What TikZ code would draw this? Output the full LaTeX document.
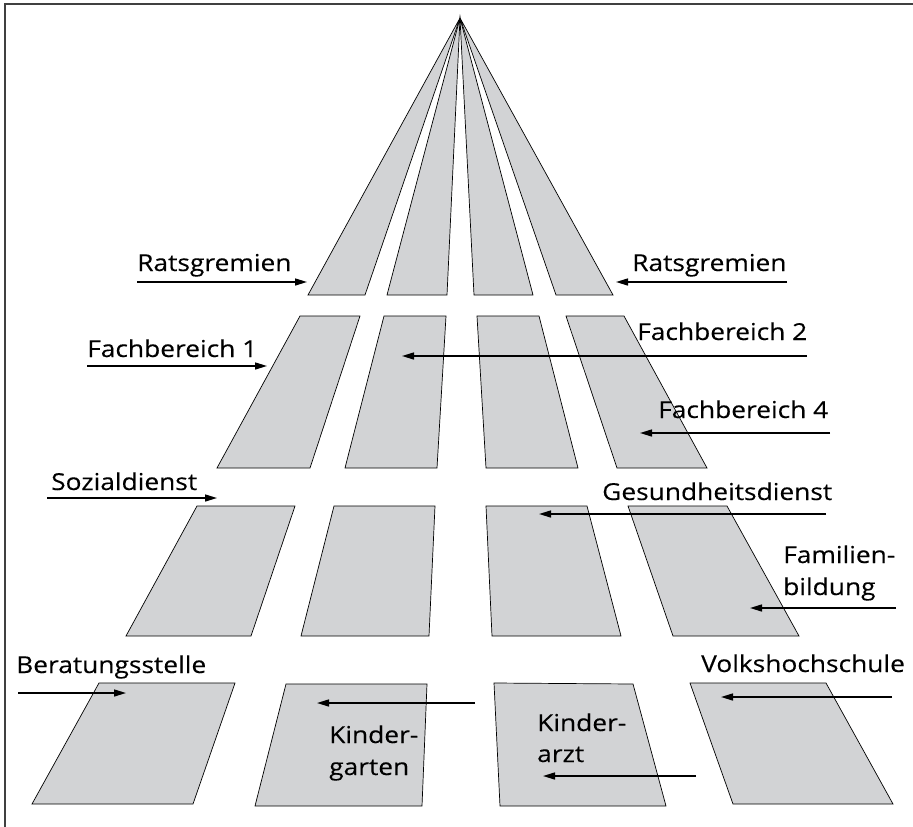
\documentclass[tikz,border=0pt]{standalone}
\usepackage{fontspec}
\setmainfont{Open Sans}[FakeStretch=1.13,FakeBold=0.25]
\usetikzlibrary{arrows.meta}
\definecolor{stripgray}{RGB}{210,211,213}
\begin{document}
\begin{tikzpicture}[x=1pt,y=-1pt,
  strip/.style={fill=stripgray,draw=black,line width=0.7pt,line join=miter},
  lbl/.style={anchor=base west,inner sep=0pt,font=\fontsize{23.3}{32}\selectfont},
  arr/.style={line width=1.5pt,-{Triangle[length=12pt,width=7pt]}}]
\useasboundingbox (0,0) rectangle (913,827);
\draw[line width=1.3pt,black!75] (5,827) -- (5,4) -- (913,4);
% top fan
\coordinate (apex) at (460,18);
\path[strip] (apex) -- (308,295) -- (365,295) -- cycle;
\path[strip] (apex) -- (387,295) -- (447,295) -- cycle;
\path[strip] (apex) -- (474,295) -- (533,295) -- cycle;
\path[strip] (apex) -- (556,295) -- (613,295) -- cycle;
% row 2
\path[strip] (300,316) -- (360,316) -- (310,468) -- (217,468) -- cycle;
\path[strip] (384,316) -- (446,316) -- (437,468) -- (345,468) -- cycle;
\path[strip] (477,316) -- (539,316) -- (578,468) -- (486,468) -- cycle;
\path[strip] (566,316) -- (624,316) -- (707,468) -- (617,468) -- cycle;
% row 3
\path[strip] (197,506) -- (295,506) -- (251,636) -- (126,636) -- cycle;
\path[strip] (334,506) -- (435,506) -- (429,636) -- (301,636) -- cycle;
\path[strip] (486,506) -- (587,506) -- (621,636) -- (492,636) -- cycle;
\path[strip] (628,506) -- (727,506) -- (799,636) -- (673,636) -- cycle;
% row 4
\path[strip] (99,683) -- (235,683) -- (193,804) -- (32,804) -- cycle;
\path[strip] (286,684) -- (427,684) -- (422,806) -- (255,806) -- cycle;
\path[strip] (494,683) -- (633,684) -- (666,806) -- (500,806) -- cycle;
\path[strip] (690,683) -- (826,683) -- (893,804) -- (733,804) -- cycle;
% labels
\node[lbl] (rl) at (137,271) {Ratsgremien};
\node[lbl] (rr) at (632,271) {Ratsgremien};
\node[lbl] (f1) at (87,357) {Fachbereich 1};
\node[lbl] (f2) at (637,340) {Fachbereich 2};
\node[lbl] (f4) at (658,418) {Fachbereich 4};
\node[lbl] (sd) at (51,490) {Sozialdienst};
\node[lbl] (gd) at (602,500) {Gesundheitsdienst};
\node[lbl] (fa) at (783,563) {Familien-};
\node[lbl] (fb) at (783,595) {bildung};
\node[lbl] (bs) at (16,673) {Beratungsstelle};
\node[lbl] (kga) at (329,743) {Kinder-};
\node[lbl] (kgb) at (329,775) {garten};
\node[lbl] (kaa) at (537,731) {Kinder-};
\node[lbl] (kab) at (537,762) {arzt};
\node[lbl] (vh) at (701,672) {Volkshochschule};
% arrow ends
\coordinate (a1s) at (137,282); \coordinate (a1e) at (307,282);
\coordinate (a2s) at (787,282); \coordinate (a2e) at (616,282);
\coordinate (a3s) at (87,366);  \coordinate (a3e) at (267,366);
\coordinate (a4s) at (807,356); \coordinate (a4e) at (402,356);
\coordinate (a5s) at (830,433); \coordinate (a5e) at (640,433);
\coordinate (a6s) at (47,498);  \coordinate (a6e) at (217,498);
\coordinate (a7s) at (826,514); \coordinate (a7e) at (539,514);
\coordinate (a8s) at (896,608); \coordinate (a8e) at (750,608);
\coordinate (a9s) at (18,693);  \coordinate (a9e) at (126,693);
\coordinate (a10s) at (475,703); \coordinate (a10e) at (317,703);
\coordinate (a11s) at (696,776); \coordinate (a11e) at (543,776);
\coordinate (a12s) at (892,697); \coordinate (a12e) at (721,697);
\foreach \i in {1,...,12} \draw[arr] (a\i s) -- (a\i e);
\end{tikzpicture}
\end{document}
